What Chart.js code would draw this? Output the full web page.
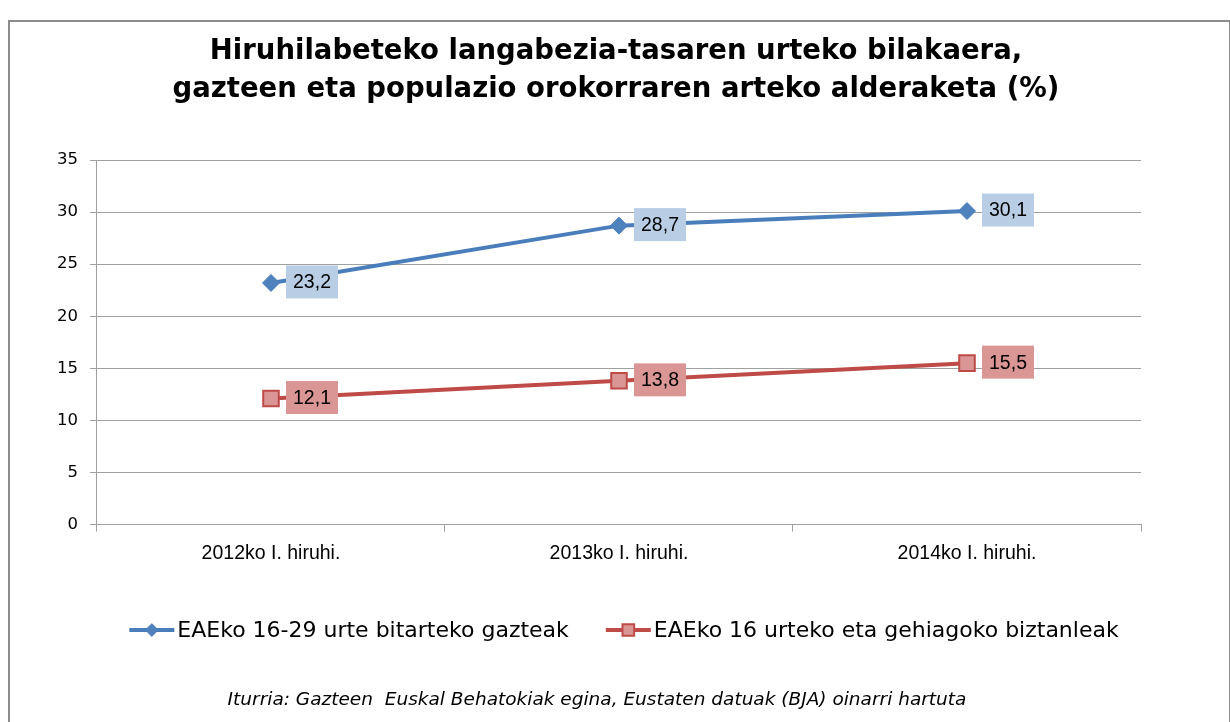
<!DOCTYPE html>
<html>
<head>
<meta charset="utf-8">
<script src="https://cdn.jsdelivr.net/npm/chart.js@4.4.1/dist/chart.umd.min.js"></script>
<style>
  body { margin: 0; background: #fff; overflow: hidden; }
  #frame { position: absolute; left: 8px; top: 20px; width: 1219px; height: 720px; border: 2px solid #8c8c8c; }
  #wrap { position: absolute; left: 0; top: 0; width: 1230px; height: 722px; }
</style>
</head>
<body>
<div id="frame"></div>
<div id="wrap"><canvas id="line-chart" width="1230" height="722"></canvas></div>
<script>
const categories = ['2012ko I. hiruhi.', '2013ko I. hiruhi.', '2014ko I. hiruhi.'];
const youngValues = [23.2, 28.7, 30.1];
const generalValues = [12.1, 13.8, 15.5];
const seriesNames = ['EAEko 16-29 urte bitarteko gazteak', 'EAEko 16 urteko eta gehiagoko biztanleak'];
const titleLines = [
    'Hiruhilabeteko langabezia-tasaren urteko bilakaera,',
    'gazteen eta populazio orokorraren arteko alderaketa (%)'
];
const sourceText = 'Iturria: Gazteen  Euskal Behatokiak egina, Eustaten datuak (BJA) oinarri hartuta';

const fmt = v => v.toFixed(1).replace('.', ',');

// titulua, legenda eta iturria marrazteko
const decorPlugin = {
    id: 'decor',
    afterDraw(chart) {
        const ctx = chart.ctx;
        ctx.save();
        ctx.fillStyle = '#000';
        ctx.textAlign = 'center';
        ctx.textBaseline = 'middle';
        ctx.font = 'bold 27.5px "DejaVu Sans"';
        ctx.fillText(titleLines[0], 616, 52);
        ctx.fillText(titleLines[1], 616, 90);

        // legenda
        ctx.font = '22px "DejaVu Sans"';
        const sets = chart.data.datasets;
        const lineLen = 45, gap = 3, itemGap = 37;
        const widths = sets.map(d => ctx.measureText(d.label).width);
        let total = 0;
        widths.forEach((w, i) => { total += lineLen + gap + w + (i ? itemGap : 0); });
        let x = 624 - total / 2;
        const y = 630;
        sets.forEach((d, i) => {
            ctx.strokeStyle = d.borderColor;
            ctx.lineWidth = 4;
            ctx.beginPath();
            ctx.moveTo(x, y);
            ctx.lineTo(x + lineLen, y);
            ctx.stroke();
            ctx.fillStyle = d.pointBackgroundColor;
            ctx.strokeStyle = d.pointBorderColor;
            ctx.lineWidth = d.pointBorderWidth;
            Chart.helpers.drawPoint(ctx, {pointStyle: d.pointStyle, rotation: 0, borderWidth: d.pointBorderWidth, radius: d.pointRadius * 0.75}, x + lineLen / 2, y);
            ctx.fillStyle = '#000';
            ctx.textAlign = 'left';
            ctx.fillText(d.label, x + lineLen + gap, y + 1);
            x += lineLen + gap + widths[i] + itemGap;
        });

        ctx.textAlign = 'center';
        ctx.font = 'italic 18.5px "DejaVu Sans"';
        ctx.fillText(sourceText, 597, 700);
        ctx.restore();
    }
};

// datu-etiketak kutxa koloredunekin
const boxLabels = {
    id: 'boxLabels',
    afterDatasetsDraw(chart) {
        const ctx = chart.ctx;
        ctx.save();
        ctx.font = '19.5px "Liberation Sans"';
        ctx.textBaseline = 'middle';
        ctx.textAlign = 'center';
        chart.data.datasets.forEach((d, i) => {
            chart.getDatasetMeta(i).data.forEach((pt, j) => {
                const bx = pt.x + 15, bw = 52, bh = 33;
                ctx.fillStyle = d.labelBg;
                ctx.fillRect(bx, pt.y - bh / 2 - 1, bw, bh);
                ctx.fillStyle = '#000';
                ctx.fillText(fmt(d.data[j]), bx + bw / 2, pt.y);
            });
        });
        ctx.restore();
    }
};

const dataLine = {
    labels: categories,
    datasets: [{
        label: seriesNames[0],
        data: youngValues,
        borderColor: '#4a7ebb',
        borderWidth: 4,
        pointStyle: 'rectRot',
        pointRadius: 8.5,
        pointBackgroundColor: '#4f81bd',
        pointBorderColor: '#4a7ebb',
        pointBorderWidth: 1,
        labelBg: '#b9cde5',
        tension: 0
    }, {
        label: seriesNames[1],
        data: generalValues,
        borderColor: '#be4b48',
        borderWidth: 4,
        pointStyle: 'rect',
        pointRadius: 11,
        pointBackgroundColor: '#da9694',
        pointBorderColor: '#be4b48',
        pointBorderWidth: 2,
        labelBg: '#da9694',
        tension: 0
    }]
};

const configLine = {
    type: 'line',
    data: dataLine,
    options: {
        responsive: false,
        animation: false,
        layout: {
            padding: { top: 160, left: 45, right: 89, bottom: 147 }
        },
        plugins: {
            legend: { display: false },
            title: { display: false },
            tooltip: { enabled: false }
        },
        scales: {
            x: {
                offset: true,
                grid: { offset: true, drawOnChartArea: false, color: '#a0a0a0', tickLength: 7 },
                border: { color: '#a0a0a0' },
                ticks: { color: '#000', padding: 10, font: { family: 'Liberation Sans', size: 19.5 } }
            },
            y: {
                min: 0,
                max: 35,
                ticks: { stepSize: 5, color: '#000', padding: 12, font: { family: 'DejaVu Sans', size: 16.5 } },
                grid: { color: '#a0a0a0', tickLength: 7 },
                border: { color: '#a0a0a0' }
            }
        }
    },
    plugins: [boxLabels, decorPlugin]
};

const context = document.getElementById('line-chart').getContext('2d');
const chartLine = new Chart(context, configLine);
</script>
</body>
</html>
